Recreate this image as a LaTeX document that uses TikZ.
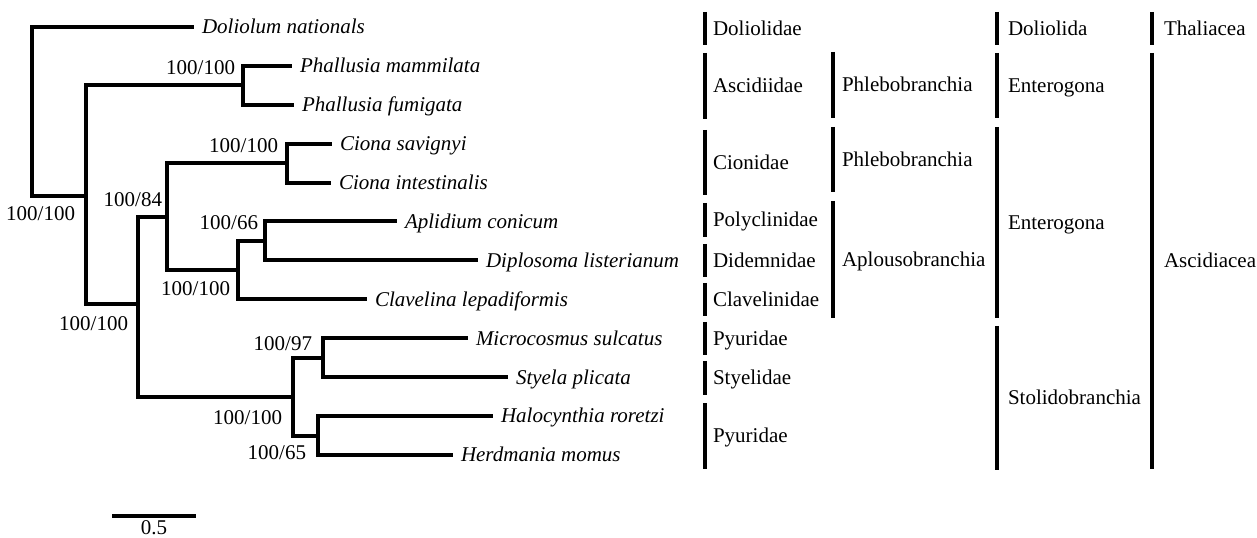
\documentclass[tikz,border=0pt]{standalone}
\usepackage{fontspec}
\setmainfont{Liberation Serif}
\usepackage{tikz}
\usetikzlibrary{positioning}
\definecolor{tuink}{HTML}{000000}
\tikzset{
  tubranch/.style={draw=tuink, line width=3pt, line join=miter},
  tubar/.style={draw=tuink, line width=3.5pt},
  tuleaf/.style={anchor=west, inner xsep=6pt, inner ysep=0pt, outer sep=0pt,
                 text height=10.4pt, text depth=0pt, text=tuink,
                 font=\fontsize{15.75}{18}\selectfont\itshape},
  tusup/.style={inner sep=0pt, outer sep=0pt, text height=10.5pt, text depth=0pt,
                text=tuink, font=\fontsize{15.75}{18}\selectfont},
  tutaxon/.style={anchor=west, inner sep=0pt, outer sep=0pt, text height=10.4pt,
                  text depth=0pt, text=tuink, font=\fontsize{15.75}{18}\selectfont},
}

\begin{document}
\begin{tikzpicture}[x=0.75pt, y=-0.75pt]
  \useasboundingbox (0,0) rectangle (1257,538);
  % internal nodes of the tree
  \coordinate (root) at (32,111.5);
  \coordinate (n2)   at (86,196);
  \coordinate (nPh)  at (243,85.5);
  \coordinate (n3)   at (138,304);
  \coordinate (n4)   at (167,217);
  \coordinate (nCi)  at (287,163);
  \coordinate (n5)   at (238,270);
  \coordinate (n6)   at (265,241);
  \coordinate (nSt)  at (293,397);
  \coordinate (nMS)  at (323,358);
  \coordinate (nHH)  at (318,435.5);
  % leaves
  \node[tuleaf] (dol) at (194,27)    {Doliolum nationals};
  \node[tuleaf] (phm) at (292,65.9)  {Phallusia mammilata};
  \node[tuleaf] (phf) at (294,104.8) {Phallusia fumigata};
  \node[tuleaf] (csa) at (332,143.7) {Ciona savignyi};
  \node[tuleaf] (cin) at (331,182.6) {Ciona intestinalis};
  \node[tuleaf] (apl) at (397,221.5) {Aplidium conicum};
  \node[tuleaf] (dip) at (478,260.4) {Diplosoma listerianum};
  \node[tuleaf] (cla) at (367,299.3) {Clavelina lepadiformis};
  \node[tuleaf] (mic) at (468,338.2) {Microcosmus sulcatus};
  \node[tuleaf] (sty) at (508,377.1) {Styela plicata};
  \node[tuleaf] (hal) at (493,416)   {Halocynthia roretzi};
  \node[tuleaf] (her) at (453,454.9) {Herdmania momus};
  % branches
  \foreach \p/\c in {root/dol.west, root/n2, n2/nPh, n2/n3, nPh/phm.west, nPh/phf.west,
                     n3/n4, n3/nSt, n4/nCi, n4/n5, nCi/csa.west, nCi/cin.west,
                     n5/n6, n5/cla.west, n6/apl.west, n6/dip.west,
                     nSt/nMS, nSt/nHH, nMS/mic.west, nMS/sty.west, nHH/hal.west, nHH/her.west}
    \draw[tubranch] (\p) |- (\c);
  % support values
  \node[tusup, above left=7.9pt and 6pt of nPh]   (sPh) {100/100};
  \node[tusup, above left=7.5pt and 6.75pt of nCi] (sCi) {100/100};
  \node[tusup, above left=7.5pt and 3.75pt of n4]  (s4)  {100/84};
  \node[tusup, above left=8.25pt and 5.25pt of n6] (s6)  {100/66};
  \node[tusup, above left=6pt and 8.25pt of nMS]   (sMS) {100/97};
  \node[tusup, below left=8.25pt and 8.25pt of n2] (s2)  {100/100};
  \node[tusup, below left=9.75pt and 7.5pt of n3]  (s3)  {100/100};
  \node[tusup, below left=9pt and 6pt of n5]       (s5)  {100/100};
  \node[tusup, below left=9.75pt and 8.25pt of nSt] (sSt) {100/100};
  \node[tusup, below left=7.5pt and 9pt of nHH]    (sHH) {100/65};
  % scale bar
  \coordinate (sbL) at (112,516);
  \coordinate (sbR) at (196,516);
  \draw[tubranch] (sbL) -- node[tusup, below=3pt] (sbt) {0.5} (sbR);
  % families
  \foreach \ya/\yb/\t [count=\k] in {12/45/Doliolidae, 53/119/Ascidiidae, 130/195/Cionidae,
                                     203/237/Polyclinidae, 244/277/Didemnidae, 283/316/Clavelinidae,
                                     322/355/Pyuridae, 361/395/Styelidae, 403/469/Pyuridae}
    { \draw[tubar] (705,\ya) -- (705,\yb);
      \node[tutaxon] (fam\k) at (713,{(\ya+\yb)/2}) {\t}; }
  % orders
  \foreach \ya/\yb/\t [count=\k] in {52/118/Phlebobranchia, 127/192/Phlebobranchia,
                                     201/318/Aplousobranchia}
    { \draw[tubar] (833,\ya) -- (833,\yb);
      \node[tutaxon] (ord\k) at (842,{(\ya+\yb)/2}) {\t}; }
  % suborders
  \foreach \ya/\yb/\t [count=\k] in {12/45/Doliolida, 53/118/Enterogona, 127/318/Enterogona,
                                     326/470/Stolidobranchia}
    { \draw[tubar] (997,\ya) -- (997,\yb);
      \node[tutaxon] (sub\k) at (1008,{(\ya+\yb)/2}) {\t}; }
  % classes
  \foreach \ya/\yb/\t [count=\k] in {12/45/Thaliacea, 53/469/Ascidiacea}
    { \draw[tubar] (1152,\ya) -- (1152,\yb);
      \node[tutaxon] (cls\k) at (1164,{(\ya+\yb)/2}) {\t}; }
\end{tikzpicture}
\end{document}
